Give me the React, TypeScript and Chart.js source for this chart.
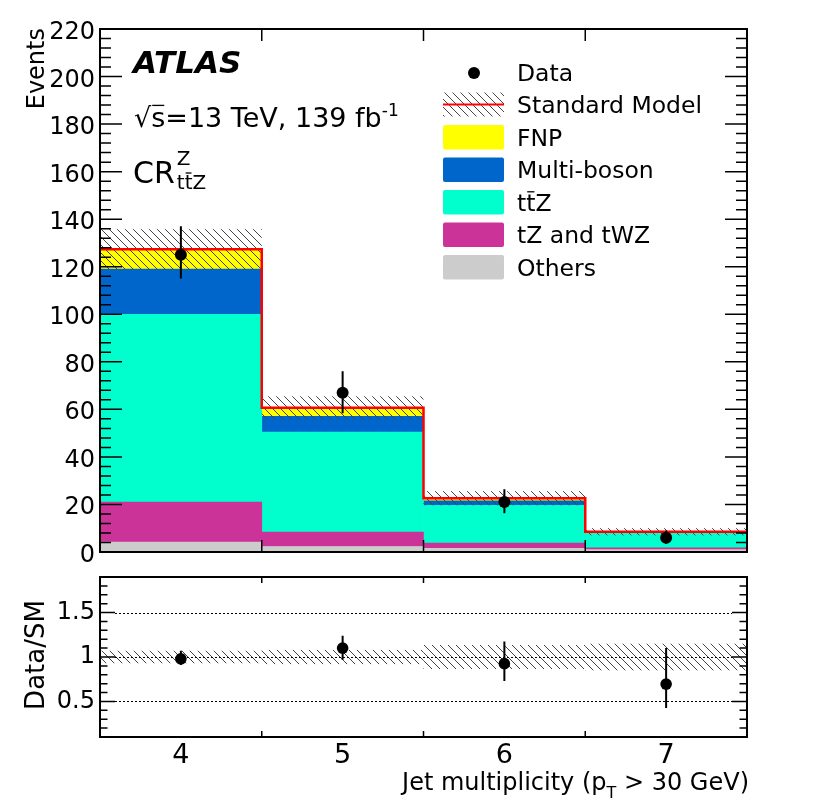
import { useEffect, useRef } from "react";
import { Chart, registerables } from "chart.js";

Chart.register(...registerables);

// jet multiplicity bins
const bins = ["4", "5", "6", "7"];

// stacked backgrounds (bottom -> top)
const others = [4.2, 2.3, 1.5, 1.0];
const tzTwz = [16.8, 6.1, 2.2, 0.8];
const ttz = [79, 42, 15.9, 6.1];
const multiBoson = [19, 6.7, 1.9, 0.3];
const fnp = [8.3, 3.6, 1.1, 0.3];
const smErr = [8.5, 4.8, 3.0, 1.5];

// data with error bar ends
const data = [125, 67, 21, 6];
const dataHi = [137, 76, 26.4, 9];
const dataLo = [115, 58.4, 16.3, 3.5];

// ratio panel
const ratio = [0.98, 1.1, 0.925, 0.695];
const ratioHi = [1.07, 1.24, 1.175, 1.1];
const ratioLo = [0.91, 0.97, 0.73, 0.425];
const ratioBand = [0.07, 0.08, 0.135, 0.15];

const mainTicks = [0, 20, 40, 60, 80, 100, 120, 140, 160, 180, 200, 220];
const ratioTicks = [0.5, 1, 1.5];

const FONT = '"DejaVu Sans"';
const totals = bins.map((_, i) => others[i] + tzTwz[i] + ttz[i] + multiBoson[i] + fnp[i]);

function hatch(ctx: CanvasRenderingContext2D) {
    const c = document.createElement("canvas");
    c.width = 8;
    c.height = 8;
    const g = c.getContext("2d")!;
    g.strokeStyle = "#444";
    g.lineWidth = 1;
    g.beginPath();
    g.moveTo(-1, -1);
    g.lineTo(9, 9);
    g.stroke();
    return ctx.createPattern(c, "repeat")!;
}

type Part = { t: string; size: number; dy?: number; over?: boolean; style?: string };

function drawParts(ctx: CanvasRenderingContext2D, parts: Part[], x: number, y: number, align = "left") {
    const widths = parts.map((p) => {
        ctx.font = `${p.style ?? ""} ${p.size}px ${FONT}`;
        return ctx.measureText(p.t).width;
    });
    let cx = align === "right" ? x - widths.reduce((a, b) => a + b, 0) : x;
    ctx.textAlign = "left";
    ctx.textBaseline = "alphabetic";
    parts.forEach((p, i) => {
        ctx.font = `${p.style ?? ""} ${p.size}px ${FONT}`;
        const yy = y + (p.dy ?? 0);
        ctx.fillText(p.t, cx, yy);
        if (p.over) {
            ctx.lineWidth = 1.3;
            ctx.beginPath();
            ctx.moveTo(cx + 1, yy - p.size * 0.8);
            ctx.lineTo(cx + widths[i] - 1, yy - p.size * 0.8);
            ctx.stroke();
        }
        cx += widths[i];
    });
}

function yTicks(ctx: CanvasRenderingContext2D, chart: any, values: number[], majors: boolean[], maj: number, min: number) {
    const { chartArea: a, scales } = chart;
    ctx.lineWidth = 1.5;
    ctx.beginPath();
    values.forEach((v, k) => {
        const py = scales.y.getPixelForValue(v);
        const len = majors[k] ? maj : min;
        ctx.moveTo(a.left, py);
        ctx.lineTo(a.left + len, py);
        ctx.moveTo(a.right, py);
        ctx.lineTo(a.right - len, py);
    });
    ctx.stroke();
}

function xTicks(ctx: CanvasRenderingContext2D, chart: any, len: number) {
    const { chartArea: a, scales } = chart;
    ctx.lineWidth = 1.5;
    ctx.beginPath();
    for (let i = 0; i < bins.length - 1; i++) {
        const px = scales.x.getPixelForValue(i + 0.5);
        ctx.moveTo(px, a.top);
        ctx.lineTo(px, a.top + len);
        ctx.moveTo(px, a.bottom);
        ctx.lineTo(px, a.bottom - len);
    }
    ctx.stroke();
}

const legendRows = [
    { label: "Data", kind: "data" },
    { label: "Standard Model", kind: "sm" },
    { label: "FNP", color: "#ffff00" },
    { label: "Multi-boson", color: "#0066cc" },
    { label: "ttZ", color: "#00ffcc" },
    { label: "tZ and tWZ", color: "#cc3399" },
    { label: "Others", color: "#cccccc" },
];

const mainDeco = {
    id: "mainDeco",
    beforeDatasetDraw(chart: any, args: any) {
        if (args.index !== 5) return;
        const { ctx, chartArea: a, scales: { x, y } } = chart;
        ctx.save();
        ctx.beginPath();
        ctx.rect(a.left, a.top, a.width, a.height);
        ctx.clip();
        ctx.fillStyle = hatch(ctx);
        totals.forEach((t, i) => {
            const x0 = x.getPixelForValue(i - 0.5);
            const x1 = x.getPixelForValue(i + 0.5);
            const y0 = y.getPixelForValue(t + smErr[i]);
            const y1 = y.getPixelForValue(t - smErr[i]);
            ctx.fillRect(x0, y0, x1 - x0, y1 - y0);
        });
        ctx.strokeStyle = "#ff0000";
        ctx.lineWidth = 2.5;
        ctx.beginPath();
        totals.forEach((t, i) => {
            const x0 = x.getPixelForValue(i - 0.5);
            const x1 = x.getPixelForValue(i + 0.5);
            const py = y.getPixelForValue(t);
            if (i === 0) ctx.moveTo(x0, py);
            else ctx.lineTo(x0, py);
            ctx.lineTo(x1, py);
        });
        ctx.stroke();
        ctx.strokeStyle = "#000";
        ctx.lineWidth = 2;
        ctx.beginPath();
        data.forEach((_, i) => {
            const px = x.getPixelForValue(i);
            ctx.moveTo(px, y.getPixelForValue(dataHi[i]));
            ctx.lineTo(px, y.getPixelForValue(dataLo[i]));
        });
        ctx.stroke();
        ctx.restore();
    },
    afterDraw(chart: any) {
        const { ctx, chartArea: a, scales: { y } } = chart;
        ctx.save();
        ctx.strokeStyle = "#000";
        ctx.fillStyle = "#000";
        const vals: number[] = [];
        const majors: boolean[] = [];
        for (let k = 0; k <= 55; k++) {
            vals.push(k * 4);
            majors.push(k % 5 === 0);
        }
        yTicks(ctx, chart, vals, majors, 22, 11);
        xTicks(ctx, chart, 12);
        ctx.lineWidth = 2;
        ctx.strokeRect(a.left, a.top, a.width, a.height);

        ctx.font = `24px ${FONT}`;
        ctx.textAlign = "right";
        ctx.textBaseline = "alphabetic";
        mainTicks.forEach((v) => ctx.fillText(String(v), 95, y.getPixelForValue(v) + 10));

        ctx.save();
        ctx.translate(44, 28);
        ctx.rotate(-Math.PI / 2);
        ctx.textAlign = "right";
        ctx.font = `24px ${FONT}`;
        ctx.fillText("Events", 0, 0);
        ctx.restore();

        ctx.font = `italic bold 31px ${FONT}`;
        ctx.textAlign = "left";
        ctx.fillText("ATLAS", 133, 73);

        ctx.strokeStyle = "#000";
        drawParts(ctx, [
            { t: "\u221A", size: 27 },
            { t: "s", size: 27, over: true },
            { t: "=13 TeV, 139 fb", size: 27 },
            { t: "-1", size: 17, dy: -11 },
        ], 134, 127);

        drawParts(ctx, [{ t: "CR", size: 30 }], 133, 183);
        ctx.font = `30px ${FONT}`;
        const crw = ctx.measureText("CR").width;
        drawParts(ctx, [{ t: "Z", size: 20 }], 135 + crw, 165);
        drawParts(ctx, [
            { t: "t", size: 20 },
            { t: "t", size: 20, over: true },
            { t: "Z", size: 20 },
        ], 135 + crw, 189);

        // legend
        legendRows.forEach((r, i) => {
            const cy = 72 + i * 32.5;
            if (r.kind === "data") {
                ctx.beginPath();
                ctx.arc(474, cy + 1, 6, 0, Math.PI * 2);
                ctx.fill();
            } else if (r.kind === "sm") {
                ctx.fillStyle = hatch(ctx);
                ctx.fillRect(443, cy - 12, 61, 24);
                ctx.strokeStyle = "#ff0000";
                ctx.lineWidth = 2;
                ctx.beginPath();
                ctx.moveTo(443, cy);
                ctx.lineTo(504, cy);
                ctx.stroke();
            } else {
                ctx.fillStyle = r.color!;
                ctx.beginPath();
                ctx.roundRect(443, cy - 12, 61, 24.5, 2);
                ctx.fill();
            }
            ctx.fillStyle = "#000";
            ctx.strokeStyle = "#000";
            if (r.label === "ttZ") {
                drawParts(ctx, [
                    { t: "t", size: 23.5 },
                    { t: "t", size: 23.5, over: true },
                    { t: "Z", size: 23.5 },
                ], 517, cy + 8.6);
            } else {
                drawParts(ctx, [{ t: r.label, size: 23.5 }], 517, cy + 8.6);
            }
        });
        ctx.restore();
    },
};

const ratioDeco = {
    id: "ratioDeco",
    beforeDatasetsDraw(chart: any) {
        const { ctx, chartArea: a, scales: { x, y } } = chart;
        ctx.save();
        ctx.fillStyle = hatch(ctx);
        ratioBand.forEach((b, i) => {
            const x0 = x.getPixelForValue(i - 0.5);
            const x1 = x.getPixelForValue(i + 0.5);
            const y0 = y.getPixelForValue(1 + b);
            const y1 = y.getPixelForValue(1 - b);
            ctx.fillRect(x0, y0, x1 - x0, y1 - y0);
        });
        ctx.strokeStyle = "#000";
        ctx.lineWidth = 1;
        ctx.setLineDash([2, 2]);
        ratioTicks.forEach((v) => {
            const py = Math.round(y.getPixelForValue(v)) + 0.5;
            ctx.beginPath();
            ctx.moveTo(a.left + 15, py);
            ctx.lineTo(a.right - 15, py);
            ctx.stroke();
        });
        ctx.setLineDash([]);
        ctx.lineWidth = 2;
        ctx.beginPath();
        ratio.forEach((_, i) => {
            const px = x.getPixelForValue(i);
            ctx.moveTo(px, y.getPixelForValue(ratioHi[i]));
            ctx.lineTo(px, y.getPixelForValue(ratioLo[i]));
        });
        ctx.stroke();
        ctx.restore();
    },
    afterDraw(chart: any) {
        const { ctx, chartArea: a, scales: { x, y } } = chart;
        ctx.save();
        ctx.strokeStyle = "#000";
        ctx.fillStyle = "#000";
        const vals: number[] = [];
        const majors: boolean[] = [];
        for (let k = 2; k <= 18; k++) {
            vals.push(k / 10);
            majors.push(k % 5 === 0);
        }
        yTicks(ctx, chart, vals, majors, 15, 7.5);
        xTicks(ctx, chart, 6);
        ctx.lineWidth = 2;
        ctx.strokeRect(a.left, a.top, a.width, a.height);

        ctx.font = `24px ${FONT}`;
        ctx.textAlign = "right";
        ctx.textBaseline = "middle";
        ratioTicks.forEach((v) => ctx.fillText(String(v), 95, y.getPixelForValue(v)));

        ctx.font = `27px ${FONT}`;
        ctx.textAlign = "center";
        ctx.textBaseline = "alphabetic";
        bins.forEach((b, i) => ctx.fillText(b, x.getPixelForValue(i), 198));

        ctx.save();
        ctx.translate(44, y.getPixelForValue(1) - 2);
        ctx.rotate(-Math.PI / 2);
        ctx.font = `26px ${FONT}`;
        ctx.textAlign = "center";
        ctx.fillText("Data/SM", 0, 0);
        ctx.restore();

        drawParts(ctx, [
            { t: "Jet multiplicity (p", size: 24 },
            { t: "T", size: 16, dy: 8 },
            { t: " > 30 GeV)", size: 24 },
        ], 749, 225, "right");
        ctx.restore();
    },
};

const App: React.FC = () => {
    const mainRef = useRef<HTMLCanvasElement>(null);
    const ratioRef = useRef<HTMLCanvasElement>(null);

    useEffect(() => {
        if (!mainRef.current || !ratioRef.current) return;
        const bar = (label: string, values: number[], color: string) => ({
            label,
            data: values,
            backgroundColor: color,
            borderWidth: 0,
            barPercentage: 1,
            categoryPercentage: 1,
        });

        const main = new Chart(mainRef.current, {
            type: "bar",
            data: {
                labels: bins,
                datasets: [
                    bar("Others", others, "#cccccc"),
                    bar("tZ and tWZ", tzTwz, "#cc3399"),
                    bar("ttZ", ttz, "#00ffcc"),
                    bar("Multi-boson", multiBoson, "#0066cc"),
                    bar("FNP", fnp, "#ffff00"),
                    {
                        type: "line",
                        label: "Data",
                        data: data,
                        showLine: false,
                        pointRadius: 6,
                        pointBackgroundColor: "#000",
                        pointBorderWidth: 0,
                        order: -1,
                        stack: "data",
                    } as any,
                ],
            },
            options: {
                animation: false,
                responsive: true,
                maintainAspectRatio: false,
                events: [],
                layout: { padding: { left: 100, top: 29, right: 83, bottom: 13 } },
                plugins: { legend: { display: false }, tooltip: { enabled: false } },
                scales: {
                    x: { display: false, stacked: true, offset: true },
                    y: { display: false, stacked: true, min: 0, max: 220 },
                },
            },
            plugins: [mainDeco],
        });

        const ratioChart = new Chart(ratioRef.current, {
            type: "line",
            data: {
                labels: bins,
                datasets: [
                    {
                        label: "Data/SM",
                        data: ratio,
                        showLine: false,
                        pointRadius: 5.8,
                        pointBackgroundColor: "#000",
                        pointBorderWidth: 0,
                    },
                ],
            },
            options: {
                animation: false,
                responsive: true,
                maintainAspectRatio: false,
                events: [],
                layout: { padding: { left: 100, top: 12, right: 83, bottom: 73 } },
                plugins: { legend: { display: false }, tooltip: { enabled: false } },
                scales: {
                    x: { display: false, offset: true },
                    y: { display: false, min: 0.1, max: 1.9 },
                },
            },
            plugins: [ratioDeco],
        });

        return () => {
            main.destroy();
            ratioChart.destroy();
        };
    }, []);

    return (
        <div style={{ position: "absolute", left: 0, top: 0, width: 830, height: 810, background: "#fff" }}>
            <div style={{ position: "absolute", left: 0, top: 0, width: 830, height: 565 }}>
                <canvas ref={mainRef}></canvas>
            </div>
            <div style={{ position: "absolute", left: 0, top: 565, width: 830, height: 245 }}>
                <canvas ref={ratioRef}></canvas>
            </div>
        </div>
    );
};

export default App;
